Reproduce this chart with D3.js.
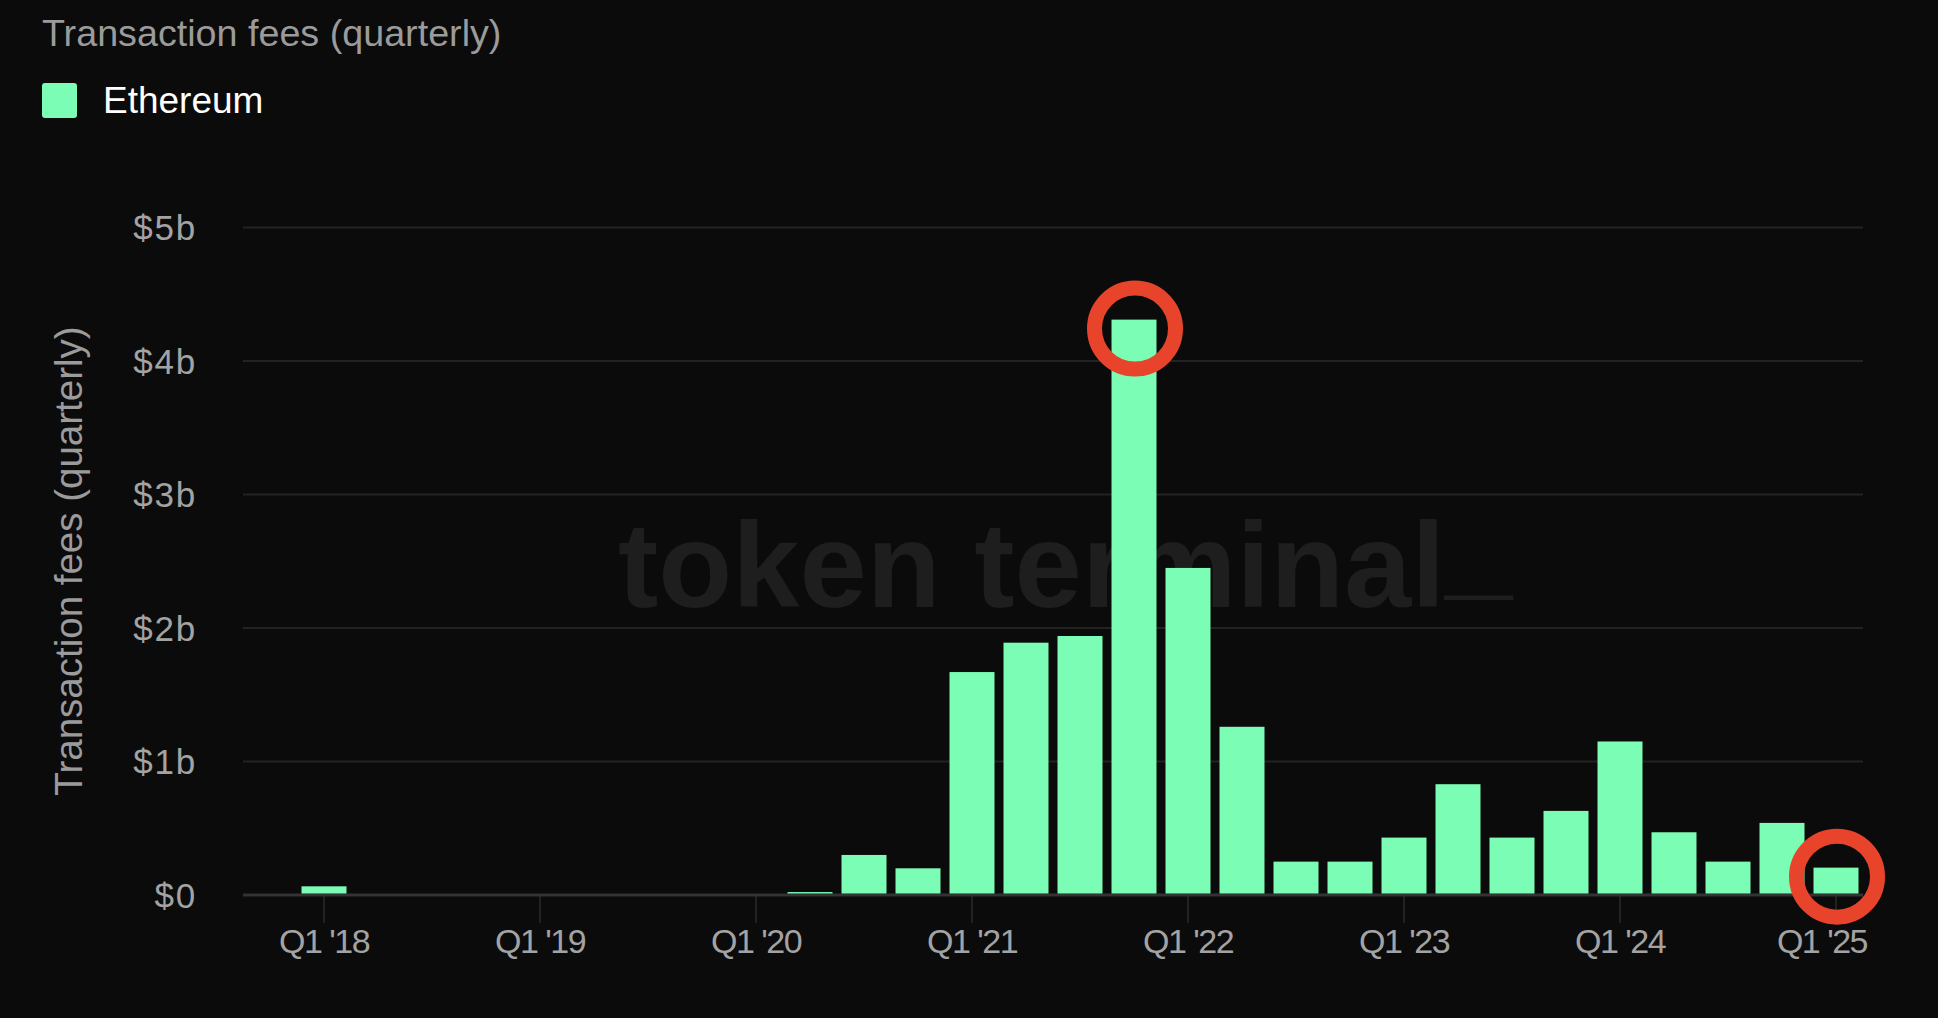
<!DOCTYPE html>
<html>
<head>
<meta charset="utf-8">
<script src="https://cdn.jsdelivr.net/npm/d3@7"></script>
<style>
  html, body { margin: 0; padding: 0; background: #0b0b0b; }
  svg { display: block; }
  text { font-family: "Liberation Sans", Arial, Helvetica, sans-serif; }
</style>
</head>
<body>
<svg id="chart" width="1938" height="1018"></svg>
<script>
// ---- data ----
const title = "Transaction fees (quarterly)";
const seriesName = "Ethereum";
const quarters = ["Q4 '17","Q1 '18","Q2 '18","Q3 '18","Q4 '18","Q1 '19","Q2 '19","Q3 '19","Q4 '19",
  "Q1 '20","Q2 '20","Q3 '20","Q4 '20","Q1 '21","Q2 '21","Q3 '21","Q4 '21",
  "Q1 '22","Q2 '22","Q3 '22","Q4 '22","Q1 '23","Q2 '23","Q3 '23","Q4 '23",
  "Q1 '24","Q2 '24","Q3 '24","Q4 '24","Q1 '25"];
// transaction fees, billions USD
const fees = [0, 0.065, 0, 0, 0, 0, 0, 0, 0,
  0, 0.022, 0.30, 0.20, 1.67, 1.89, 1.94, 4.31,
  2.45, 1.26, 0.25, 0.25, 0.43, 0.83, 0.43, 0.63,
  1.15, 0.47, 0.25, 0.54, 0.205];
const xTickLabels = ["Q1 '18","Q1 '19","Q1 '20","Q1 '21","Q1 '22","Q1 '23","Q1 '24","Q1 '25"];
const yTicks = [0, 1, 2, 3, 4, 5];
const highlighted = ["Q4 '21", "Q1 '25"];

// ---- layout ----
const svg = d3.select("#chart");
const W = 1938, H = 1018;
const mLeft = 243, mRight = 1863, mTop = 227.5, mBottom = 895;
const barColor = "#7cfdb5";
const ringColor = "#e8442c";

svg.append("rect").attr("width", W).attr("height", H).attr("fill", "#0b0b0b");

const x = d3.scaleBand().domain(quarters).range([mLeft, mRight])
  .paddingInner(0.167).paddingOuter(0.0835);
const y = d3.scaleLinear().domain([0, 5]).range([mBottom, mTop]);

// gridlines
svg.append("g").selectAll("line").data(yTicks.filter(d => d > 0)).join("line")
  .attr("x1", mLeft).attr("x2", mRight)
  .attr("y1", d => y(d)).attr("y2", d => y(d))
  .attr("stroke", "#232323").attr("stroke-width", 2);

// watermark
const wm = svg.append("text")
  .attr("x", 618).attr("y", 607)
  .attr("font-size", 121).attr("font-weight", 700)
  .attr("fill", "#1e1e1e");
wm.append("tspan").text("token terminal");
wm.append("tspan").attr("dy", -22).text("_");

// y axis labels
const yAxis = d3.axisLeft(y).tickValues(yTicks)
  .tickFormat(d => d === 0 ? "$0" : "$" + d + "b")
  .tickSize(0).tickPadding(0);
const gy = svg.append("g").attr("transform", `translate(197,0)`).call(yAxis);
gy.select(".domain").remove();
gy.selectAll("text")
  .attr("font-size", 35).attr("fill", "#a3a3a3")
  .attr("letter-spacing", "1.8px")
  .attr("dy", "0.35em")
  .attr("font-family", "'Liberation Sans', Arial, sans-serif");

// x axis
const xAxis = d3.axisBottom(x).tickValues(xTickLabels)
  .tickSize(28).tickSizeOuter(0).tickPadding(6);
const gx = svg.append("g").attr("transform", `translate(0,${mBottom})`).call(xAxis);
gx.select(".domain").remove();
gx.selectAll(".tick line").attr("stroke", "#2a2a2a").attr("stroke-width", 1.5);
gx.selectAll("text")
  .attr("font-size", 34).attr("fill", "#a3a3a3")
  .attr("letter-spacing", "-1.5px")
  .attr("font-family", "'Liberation Sans', Arial, sans-serif");
// keep the last label inside the plot's right edge
const lastQ = xTickLabels[xTickLabels.length - 1];
gx.selectAll(".tick").filter(d => d === lastQ).select("text")
  .attr("text-anchor", "end")
  .attr("x", mRight + 4 - (x(lastQ) + x.bandwidth() / 2));

// axis baseline
svg.append("line")
  .attr("x1", mLeft).attr("x2", mRight)
  .attr("y1", y(0)).attr("y2", y(0))
  .attr("stroke", "#333333").attr("stroke-width", 3);

// bars
const data = quarters.map((q, i) => ({ q, v: fees[i] }));
svg.append("g").selectAll("rect").data(data.filter(d => d.v > 0)).join("rect")
  .attr("x", d => x(d.q))
  .attr("width", x.bandwidth())
  .attr("y", d => y(d.v))
  .attr("height", d => y(0) - y(d.v) - 1.5)
  .attr("fill", barColor);

// highlight rings
svg.append("g").selectAll("circle").data(data.filter(d => highlighted.includes(d.q))).join("circle")
  .attr("cx", d => x(d.q) + x.bandwidth() / 2 + 1)
  .attr("cy", d => y(d.v) + 9)
  .attr("r", 40.5)
  .attr("fill", "none")
  .attr("stroke", ringColor)
  .attr("stroke-width", 15);

// title
svg.append("text")
  .attr("x", 42).attr("y", 46)
  .attr("font-size", 37.7).attr("fill", "#9b9b9b")
  .text(title);

// legend
svg.append("rect")
  .attr("x", 42).attr("y", 83).attr("width", 35).attr("height", 35)
  .attr("rx", 3).attr("fill", barColor);
svg.append("text")
  .attr("x", 103).attr("y", 113)
  .attr("font-size", 37).attr("fill", "#ffffff")
  .text(seriesName);

// y axis title
svg.append("text")
  .attr("transform", `translate(82,${(325 + 797) / 2}) rotate(-90)`)
  .attr("text-anchor", "middle")
  .attr("font-size", 38.5).attr("fill", "#9b9b9b")
  .text(title);
</script>
</body>
</html>
